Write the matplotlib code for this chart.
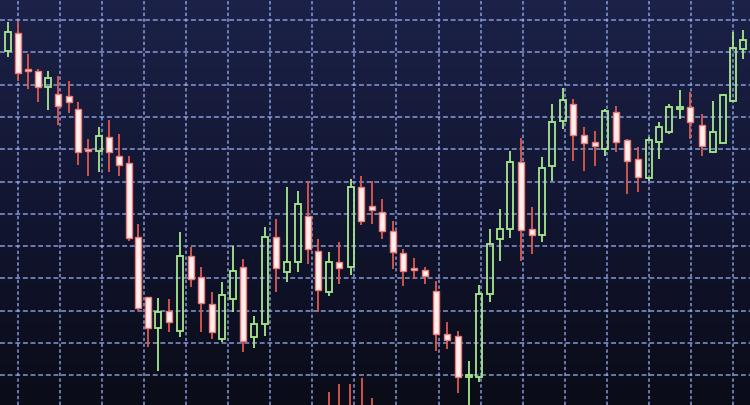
import numpy as np
import matplotlib
matplotlib.use("Agg")
import matplotlib.pyplot as plt
from matplotlib.colors import LinearSegmentedColormap

# ---- data (time position, OHLC in price units) ----
sessions = [8, 18, 28, 38, 48, 58, 69, 78, 88, 99, 109, 119, 129, 138, 148, 158, 169, 180,
            191, 201, 212, 222, 233, 243, 254, 265, 276, 287, 298, 308, 318, 329, 339, 351,
            361, 372, 382, 393, 403, 414, 425, 436, 447, 458, 469, 479, 490, 500, 510, 521,
            532, 542, 552, 563, 573, 584, 595, 605, 616, 627, 638, 649, 659, 669, 680, 690,
            702, 713, 723, 733, 743]
opens = [354, 372, 336, 334, 318, 311, 309, 296, 256, 254, 268, 249, 242, 168, 108, 77, 94, 74,
         149, 128, 101, 66, 106, 138, 68, 81, 168, 133, 143, 189, 154, 113, 143, 138,
         218, 199, 193, 174, 152, 137, 135, 114, 71, 69, 28, 28, 111, 166, 176, 243,
         176, 170, 239, 284, 301, 270, 263, 256, 293, 265, 246, 227, 263, 273, 296, 298,
         280, 253, 262, 304, 356]
highs = [383, 383, 351, 336, 334, 329, 324, 303, 266, 278, 285, 271, 249, 181, 108, 107, 106, 173,
         158, 138, 113, 123, 159, 146, 89, 178, 186, 218, 214, 224, 166, 153, 163, 226,
         229, 224, 206, 184, 156, 147, 138, 124, 83, 74, 44, 120, 176, 196, 254, 267,
         198, 248, 301, 317, 306, 278, 274, 296, 299, 266, 258, 268, 283, 301, 315, 313,
         291, 304, 311, 373, 375]
lows = [348, 324, 316, 303, 295, 280, 292, 240, 229, 233, 233, 229, 164, 94, 58, 34, 73, 68,
        118, 73, 66, 63, 93, 53, 57, 69, 113, 123, 133, 141, 93, 109, 121, 130,
        180, 181, 166, 136, 119, 126, 121, 54, 56, 12, -14, 23, 103, 144, 167, 144,
        151, 163, 224, 276, 244, 234, 239, 249, 253, 211, 213, 224, 246, 271, 286, 266,
        249, 252, 261, 303, 346]
closes = [373, 332, 334, 318, 327, 299, 303, 253, 254, 269, 253, 240, 167, 97, 77, 93, 83, 149,
          126, 102, 73, 110, 134, 64, 81, 168, 137, 143, 201, 156, 115, 143, 137, 218,
          184, 195, 174, 153, 134, 135, 129, 71, 65, 28, 30, 111, 161, 176, 243, 175,
          170, 237, 283, 305, 270, 262, 259, 294, 263, 244, 228, 265, 278, 298, 298, 283,
          259, 273, 310, 357, 365]

# partially visible candles of a lower panel (only upper wicks visible)
lower_sessions = [329, 339, 350, 362, 372]
lower_highs = [13, 21, 21, 27, 7]

# ---- styling ----
W, H = 750, 406
fig = plt.figure(figsize=(7.5, 4.06), dpi=100)
ax = fig.add_axes([0, 0, 1, 1])
ax.set_xlim(0, W)
ax.set_ylim(0, H)

bg = LinearSegmentedColormap.from_list("bg", ["#0a0c17", "#121632", "#1c2248"])
grad = np.linspace(0, 1, 256).reshape(-1, 1)
ax.imshow(grad, extent=[0, W, 0, H], origin="lower", cmap=bg, aspect="auto", zorder=0)

grid_c = "#9aaef0"
for gx in np.arange(18, W, 42.05):
    ax.axvline(gx, color=grid_c, lw=1.1, ls=(0, (2.2, 1.6)), alpha=0.85, zorder=1)
for gy in np.arange(385, 0, -32.3):
    ax.axhline(gy, color=grid_c, lw=1.1, ls=(0, (3.2, 1.8)), alpha=0.85, zorder=1)

green = "#a6e88c"
red = "#e0584e"
white_body = "#fff0ee"
white_edge = "#f07a78"
bw = 6.0

x = np.array(sessions, dtype=float)
o = np.array(opens, dtype=float)
h = np.array(highs, dtype=float)
l = np.array(lows, dtype=float)
c = np.array(closes, dtype=float)
up = c >= o
top = np.maximum(o, c)
bot = np.minimum(o, c)
height = np.maximum(top - bot, 2.0)

# bullish: hollow green candles
ax.vlines(x[up], top[up], h[up], color=green, lw=1.3, zorder=3)
ax.vlines(x[up], l[up], bot[up], color=green, lw=1.3, zorder=3)
ax.bar(x[up], height[up], bottom=bot[up], width=bw, facecolor="none",
       edgecolor=green, linewidth=1.3, zorder=3)

# bearish: red wicks, white bodies
dn = ~up
ax.vlines(x[dn], l[dn], h[dn], color=red, lw=1.3, zorder=2)
ax.bar(x[dn], height[dn], bottom=bot[dn], width=bw, facecolor=white_body,
       edgecolor=white_edge, linewidth=1.0, zorder=3)

ax.vlines(lower_sessions, [-10] * len(lower_sessions), lower_highs, color=red, lw=1.3, zorder=2)

ax.set_axis_off()
fig.savefig("out.png", dpi=100)
